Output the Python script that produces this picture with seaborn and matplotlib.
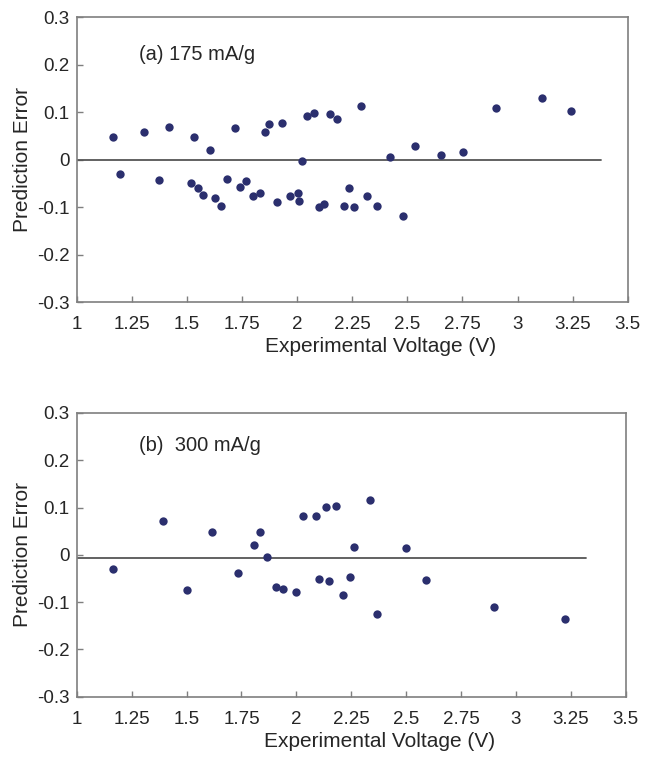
import pandas as pd
import seaborn as sns
import matplotlib.pyplot as plt

# panel (a) 175 mA/g
volt_a = [1.166, 1.198, 1.305, 1.375, 1.418, 1.532, 1.52, 1.55, 1.574, 1.603,
          1.627, 1.653, 1.68, 1.716, 1.741, 1.77, 1.80, 1.832, 1.853, 1.873,
          1.907, 1.932, 1.966, 2.003, 2.009, 2.021, 2.044, 2.076, 2.098, 2.123,
          2.151, 2.182, 2.212, 2.235, 2.259, 2.291, 2.318, 2.36, 2.421, 2.48,
          2.535, 2.653, 2.753, 2.903, 3.112, 3.244]
err_a = [0.049, -0.030, 0.058, -0.042, 0.069, 0.049, -0.049, -0.060, -0.074, 0.020,
         -0.080, -0.097, -0.041, 0.067, -0.058, -0.044, -0.077, -0.071, 0.058, 0.075,
         -0.088, 0.077, -0.077, -0.069, -0.086, -0.003, 0.093, 0.099, -0.099, -0.093,
         0.097, 0.086, -0.097, -0.060, -0.099, 0.114, -0.077, -0.097, 0.006, -0.118,
         0.030, 0.011, 0.016, 0.110, 0.130, 0.102]

# panel (b) 300 mA/g
volt_b = [1.166, 1.392, 1.5, 1.615, 1.733, 1.805, 1.833, 1.865, 1.906, 1.941,
          1.997, 2.032, 2.091, 2.103, 2.133, 2.15, 2.18, 2.21, 2.245, 2.264,
          2.335, 2.368, 2.501, 2.591, 2.9, 3.223]
err_b = [-0.029, 0.071, -0.075, 0.049, -0.039, 0.021, 0.049, -0.005, -0.067, -0.072,
         -0.078, 0.082, 0.082, -0.051, 0.101, -0.056, 0.104, -0.084, -0.046, 0.016,
         0.116, -0.125, 0.014, -0.053, -0.111, -0.136]

x_ticks = [1, 1.25, 1.5, 1.75, 2, 2.25, 2.5, 2.75, 3, 3.25, 3.5]
x_tick_labels = ['1', '1.25', '1.5', '1.75', '2', '2.25', '2.5', '2.75', '3', '3.25', '3.5']
y_ticks = [-0.3, -0.2, -0.1, 0, 0.1, 0.2, 0.3]
y_tick_labels = ['-0.3', '-0.2', '-0.1', '0', '0.1', '0.2', '0.3']

DOT = '#2b2f6e'
SPINE = '#7f7f7f'

sns.set_style('white')
plt.rcParams['font.family'] = ['Liberation Sans', 'DejaVu Sans']

fig = plt.figure(figsize=(6.56, 7.59), dpi=100)
ax_a = fig.add_axes([0.117, 0.602, 0.840, 0.375])
ax_b = fig.add_axes([0.117, 0.082, 0.837, 0.374])

panels = [
    (ax_a, volt_a, err_a, '(a) 175 mA/g', 0.221, 3.38, 0.0),
    (ax_b, volt_b, err_b, '(b)  300 mA/g', 0.232, 3.32, -0.006),
]

for ax, volts, errs, label, label_y, line_end, line_y in panels:
    df = pd.DataFrame({'voltage': volts, 'error': errs})
    ax.plot([1, line_end], [line_y, line_y], color='#555555', linewidth=1.3, zorder=1)
    sns.scatterplot(data=df, x='voltage', y='error', ax=ax, color=DOT, s=36,
                    edgecolor=DOT, linewidth=0, zorder=3)
    ax.set_xlim(1, 3.5)
    ax.set_ylim(-0.3, 0.3)
    ax.set_xticks(x_ticks)
    ax.set_xticklabels(x_tick_labels)
    ax.set_yticks(y_ticks)
    ax.set_yticklabels(y_tick_labels)
    ax.tick_params(direction='in', length=4, width=1, color=SPINE,
                   labelsize=13.5, bottom=True, left=True)
    ax.tick_params(axis='x', pad=10)
    ax.tick_params(axis='y', pad=5)
    for side in ax.spines.values():
        side.set_color(SPINE)
        side.set_linewidth(1.2)
    # the reference sets the x title a bit right of centre
    ax.set_xlabel('Experimental Voltage (V)', fontsize=15, labelpad=3, x=0.552)
    ax.set_ylabel('Prediction Error', fontsize=15, labelpad=4)
    ax.text(1.283, label_y, label, fontsize=14.5, va='center', ha='left')

fig.savefig('out.png', dpi=100)
